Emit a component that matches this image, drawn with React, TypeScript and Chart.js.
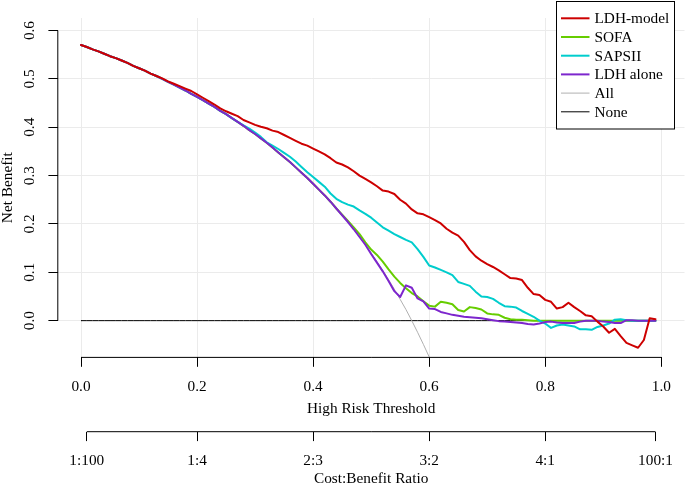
import React, { useEffect, useRef } from "react";
import { Chart, registerables } from "chart.js";

Chart.register(...registerables);

// ---------- data ----------
const thresholds = [
  0.00, 0.01, 0.02, 0.03, 0.04, 0.05, 0.06, 0.07, 0.08, 0.09,
  0.10, 0.11, 0.12, 0.13, 0.14, 0.15, 0.16, 0.17, 0.18, 0.19,
  0.20, 0.21, 0.22, 0.23, 0.24, 0.25, 0.26, 0.27, 0.28, 0.29,
  0.30, 0.31, 0.32, 0.33, 0.34, 0.35, 0.36, 0.37, 0.38, 0.39,
  0.40, 0.41, 0.42, 0.43, 0.44, 0.45, 0.46, 0.47, 0.48, 0.49,
  0.50, 0.51, 0.52, 0.53, 0.54, 0.55, 0.56, 0.57, 0.58, 0.59,
  0.60, 0.61, 0.62, 0.63, 0.64, 0.65, 0.66, 0.67, 0.68, 0.69,
  0.70, 0.71, 0.72, 0.73, 0.74, 0.75, 0.76, 0.77, 0.78, 0.79,
  0.80, 0.81, 0.82, 0.83, 0.84, 0.85, 0.86, 0.87, 0.88, 0.89,
  0.90, 0.91, 0.92, 0.93, 0.94, 0.95, 0.96, 0.97, 0.98, 0.99,
];

const ldhModel = [
  0.570, 0.566, 0.561, 0.557, 0.552, 0.547, 0.543, 0.538, 0.533, 0.527,
  0.522, 0.517, 0.511, 0.506, 0.501, 0.495, 0.490, 0.485, 0.480, 0.475,
  0.468, 0.461, 0.454, 0.447, 0.439, 0.433, 0.428, 0.423, 0.415, 0.410,
  0.405, 0.401, 0.398, 0.393, 0.390, 0.384, 0.378, 0.372, 0.366, 0.362,
  0.356, 0.350, 0.344, 0.336, 0.327, 0.323, 0.317, 0.309, 0.300, 0.293,
  0.286, 0.278, 0.269, 0.267, 0.262, 0.250, 0.242, 0.230, 0.222, 0.220,
  0.214, 0.208, 0.201, 0.190, 0.182, 0.176, 0.163, 0.146, 0.133, 0.124,
  0.117, 0.111, 0.104, 0.096, 0.088, 0.087, 0.084, 0.068, 0.055, 0.053,
  0.043, 0.039, 0.025, 0.028, 0.037, 0.028, 0.020, 0.011, 0.009, -0.002,
  -0.012, -0.025, -0.017, -0.032, -0.046, -0.051, -0.056, -0.040, 0.005, 0.003,
];

const sofa = [
  0.570, 0.566, 0.561, 0.557, 0.552, 0.547, 0.543, 0.538, 0.533, 0.527,
  0.522, 0.517, 0.511, 0.506, 0.500, 0.494, 0.488, 0.482, 0.476, 0.469,
  0.463, 0.456, 0.449, 0.442, 0.434, 0.427, 0.419, 0.411, 0.403, 0.394,
  0.386, 0.377, 0.368, 0.358, 0.348, 0.338, 0.328, 0.317, 0.306, 0.295,
  0.283, 0.271, 0.259, 0.246, 0.232, 0.219, 0.206, 0.193, 0.179, 0.162,
  0.147, 0.136, 0.122, 0.106, 0.091, 0.078, 0.067, 0.057, 0.050, 0.040,
  0.031, 0.029, 0.039, 0.037, 0.034, 0.022, 0.019, 0.028, 0.026, 0.023,
  0.015, 0.013, 0.012, 0.006, 0.003, 0.002, 0.002, 0.001, 0.000, 0.000,
  0.000, 0.000, 0.000, 0.000, 0.000, 0.000, 0.000, 0.000, 0.000, 0.000,
  0.000, 0.000, 0.000, 0.000, 0.000, 0.000, 0.000, 0.000, 0.000, 0.000,
];

const sapsii = [
  0.570, 0.566, 0.561, 0.557, 0.552, 0.547, 0.543, 0.538, 0.533, 0.527,
  0.522, 0.517, 0.511, 0.506, 0.500, 0.494, 0.488, 0.482, 0.476, 0.469,
  0.463, 0.456, 0.449, 0.442, 0.434, 0.427, 0.419, 0.411, 0.404, 0.397,
  0.389, 0.380, 0.369, 0.362, 0.355, 0.347, 0.339, 0.329, 0.318, 0.307,
  0.297, 0.287, 0.277, 0.263, 0.252, 0.245, 0.240, 0.236, 0.228, 0.221,
  0.213, 0.203, 0.193, 0.186, 0.179, 0.173, 0.167, 0.162, 0.148, 0.132,
  0.114, 0.110, 0.105, 0.100, 0.094, 0.080, 0.076, 0.072, 0.060, 0.050,
  0.049, 0.045, 0.037, 0.030, 0.029, 0.027, 0.020, 0.014, 0.008, 0.000,
  -0.006, -0.015, -0.010, -0.008, -0.010, -0.012, -0.018, -0.018, -0.019, -0.013,
  -0.010, -0.006, 0.002, 0.003, 0.001, 0.000, 0.000, 0.000, 0.000, 0.000,
];

const ldhAlone = [
  0.570, 0.566, 0.561, 0.557, 0.552, 0.547, 0.543, 0.538, 0.533, 0.527,
  0.522, 0.517, 0.511, 0.506, 0.500, 0.494, 0.488, 0.482, 0.476, 0.469,
  0.463, 0.456, 0.449, 0.442, 0.434, 0.427, 0.419, 0.411, 0.403, 0.394,
  0.386, 0.377, 0.368, 0.358, 0.348, 0.338, 0.328, 0.317, 0.306, 0.295,
  0.283, 0.271, 0.259, 0.246, 0.232, 0.218, 0.204, 0.189, 0.173, 0.157,
  0.138, 0.120, 0.102, 0.082, 0.061, 0.049, 0.073, 0.068, 0.046, 0.040,
  0.025, 0.024, 0.018, 0.015, 0.012, 0.010, 0.008, 0.007, 0.006, 0.005,
  0.003, 0.001, -0.001, -0.002, -0.003, -0.004, -0.005, -0.007, -0.008, -0.006,
  -0.003, -0.002, -0.004, -0.005, -0.005, -0.005, -0.002, 0.000, 0.000, 0.000,
  -0.002, -0.003, -0.005, -0.005, 0.001, 0.001, 0.000, 0.000, 0.000, 0.000,
];

const treatAll = [
  0.570, 0.566, 0.561, 0.557, 0.552, 0.547, 0.543, 0.538, 0.533, 0.527,
  0.522, 0.517, 0.511, 0.506, 0.500, 0.494, 0.488, 0.482, 0.476, 0.469,
  0.463, 0.456, 0.449, 0.442, 0.434, 0.427, 0.419, 0.411, 0.403, 0.394,
  0.386, 0.377, 0.368, 0.358, 0.348, 0.338, 0.328, 0.317, 0.306, 0.295,
  0.283, 0.271, 0.259, 0.246, 0.232, 0.218, 0.204, 0.189, 0.173, 0.157,
  0.140, 0.122, 0.104, 0.085, 0.065, 0.044, 0.023, 0.000, -0.024, -0.049,
  -0.075, -0.103, null, null, null, null, null, null, null, null,
  null, null, null, null, null, null, null, null, null, null,
  null, null, null, null, null, null, null, null, null, null,
  null, null, null, null, null, null, null, null, null, null,
];

const treatNone = [
  0, 0, 0, 0, 0, 0, 0, 0, 0, 0,
  0, 0, 0, 0, 0, 0, 0, 0, 0, 0,
  0, 0, 0, 0, 0, 0, 0, 0, 0, 0,
  0, 0, 0, 0, 0, 0, 0, 0, 0, 0,
  0, 0, 0, 0, 0, 0, 0, 0, 0, 0,
  0, 0, 0, 0, 0, 0, 0, 0, 0, 0,
  0, 0, 0, 0, 0, 0, 0, 0, 0, 0,
  0, 0, 0, 0, 0, 0, 0, 0, 0, 0,
  0, 0, 0, 0, 0, 0, 0, 0, 0, 0,
  0, 0, 0, 0, 0, 0, 0, 0, 0, 0,
];

const xTicks = [0.0, 0.2, 0.4, 0.6, 0.8, 1.0];
const yTicks = [0.0, 0.1, 0.2, 0.3, 0.4, 0.5, 0.6];
const ratioPositions = [0.0099, 0.2, 0.4, 0.6, 0.8, 0.9901];
const ratioLabels = ["1:100", "1:4", "2:3", "3:2", "4:1", "100:1"];

const seriesLabels = ["LDH-model", "SOFA", "SAPSII", "LDH alone", "All", "None"];
const seriesData = [ldhModel, sofa, sapsii, ldhAlone, treatAll, treatNone];
const seriesColors = ["#CD0000", "#66CD00", "#00CDCD", "#7D26CD", "#B0B0B0", "#000000"];
const seriesWidths = [2, 2, 2, 2, 1, 1];
const seriesOrder = [0, 3, 2, 1, 4, 5];

// ---------- styling ----------
const FONT_FAMILY = '"Liberation Serif", "Times New Roman", Times, serif';
const FONT_SIZE = 15.3;
const TICK_LEN = 9.4;
const GRID_COLOR = "#EBEBEB";

const rAxesAndLegend = {
  id: "rAxesAndLegend",
  afterDraw(chart: any) {
    const { ctx, chartArea, scales } = chart;
    const x = scales.x;
    const y = scales.y;
    const x2 = scales.x2;
    ctx.save();
    ctx.strokeStyle = "#000";
    ctx.lineWidth = 1;
    ctx.beginPath();
    // y axis line (0.0 .. 0.6)
    ctx.moveTo(chartArea.left, y.getPixelForValue(yTicks[0]));
    ctx.lineTo(chartArea.left, y.getPixelForValue(yTicks[yTicks.length - 1]));
    // x axis line (0.0 .. 1.0)
    ctx.moveTo(x.getPixelForValue(xTicks[0]), chartArea.bottom);
    ctx.lineTo(x.getPixelForValue(xTicks[xTicks.length - 1]), chartArea.bottom);
    // cost:benefit axis line
    ctx.moveTo(x2.getPixelForValue(ratioPositions[0]), x2.top);
    ctx.lineTo(x2.getPixelForValue(ratioPositions[ratioPositions.length - 1]), x2.top);
    ctx.stroke();

    // legend
    const bx = Math.round(chartArea.right - 128.5) + 0.5;
    const by = 1.5;
    const bw = 118;
    const bh = 127.5;
    ctx.fillStyle = "#fff";
    ctx.fillRect(bx, by, bw, bh);
    ctx.strokeStyle = "#000";
    ctx.lineWidth = 1;
    ctx.strokeRect(bx, by, bw, bh);
    ctx.font = `${FONT_SIZE}px ${FONT_FAMILY}`;
    ctx.textBaseline = "middle";
    ctx.textAlign = "left";
    chart.data.datasets.forEach((ds: any, i: number) => {
      const yy = by + 16.8 + i * 18.7;
      ctx.strokeStyle = ds.borderColor;
      ctx.lineWidth = ds.borderWidth;
      ctx.beginPath();
      ctx.moveTo(bx + 4.5, yy);
      ctx.lineTo(bx + 33, yy);
      ctx.stroke();
      ctx.fillStyle = "#000";
      ctx.fillText(ds.label, bx + 38, yy + 1);
    });
    ctx.restore();
  },
};

export default function App() {
  const ref = useRef<HTMLCanvasElement>(null);

  useEffect(() => {
    if (!ref.current) return;
    Chart.defaults.font.family = FONT_FAMILY;
    Chart.defaults.font.size = FONT_SIZE;
    Chart.defaults.color = "#000";

    const datasets = seriesLabels.map((label, i) => ({
      label,
      data: thresholds.map((t, j) => ({ x: t, y: seriesData[i][j] })),
      borderColor: seriesColors[i],
      backgroundColor: seriesColors[i],
      borderWidth: seriesWidths[i],
      pointRadius: 0,
      tension: 0,
      fill: false,
      spanGaps: false,
      order: seriesOrder[i],
      borderCapStyle: "round" as const,
      borderJoinStyle: "round" as const,
      clip: 0,
    }));

    const chart = new Chart(ref.current, {
      type: "line",
      data: { datasets },
      options: {
        animation: false,
        responsive: false,
        devicePixelRatio: 1,
        parsing: false as any,
        normalized: true,
        events: [],
        layout: { padding: { top: 12, right: 0.5, left: 0, bottom: 0 } },
        plugins: {
          legend: { display: false },
          tooltip: { enabled: false },
          title: { display: false },
        },
        scales: {
          x: {
            type: "linear",
            position: "bottom",
            min: -0.04,
            max: 1.04,
            bounds: "data",
            afterBuildTicks: (s: any) => {
              s.ticks = xTicks.map((v) => ({ value: v }));
            },
            afterFit: (s: any) => {
              s.height = 74.3;
            },
            grid: {
              color: GRID_COLOR,
              lineWidth: 1,
              drawTicks: true,
              tickLength: TICK_LEN,
              tickColor: "#000",
              tickWidth: 1,
            },
            border: { display: false },
            ticks: {
              autoSkip: false,
              maxRotation: 0,
              minRotation: 0,
              padding: 10.7,
              color: "#000",
              callback: (v: any) => Number(v).toFixed(1),
            },
            title: {
              display: true,
              text: "High Risk Threshold",
              color: "#000",
              padding: { top: 0, bottom: 13.5 },
            },
          },
          x2: {
            type: "linear",
            position: "bottom",
            min: -0.04,
            max: 1.04,
            bounds: "data",
            afterBuildTicks: (s: any) => {
              s.ticks = ratioPositions.map((v) => ({ value: v }));
            },
            afterFit: (s: any) => {
              s.height = 54.3;
            },
            grid: {
              drawOnChartArea: false,
              drawTicks: true,
              tickLength: TICK_LEN,
              tickColor: "#000",
              tickWidth: 1,
            },
            border: { display: false },
            ticks: {
              autoSkip: false,
              maxRotation: 0,
              minRotation: 0,
              padding: 10.4,
              color: "#000",
              callback: (_v: any, i: number) => ratioLabels[i],
            },
            title: {
              display: true,
              text: "Cost:Benefit Ratio",
              color: "#000",
              padding: { top: 0, bottom: -2.5 },
            },
          },
          y: {
            type: "linear",
            position: "left",
            min: -0.076,
            max: 0.626,
            bounds: "data",
            afterBuildTicks: (s: any) => {
              s.ticks = yTicks.map((v) => ({ value: v }));
            },
            afterFit: (s: any) => {
              s.width = 57.8;
            },
            grid: {
              color: GRID_COLOR,
              lineWidth: 1,
              drawTicks: true,
              tickLength: TICK_LEN,
              tickColor: "#000",
              tickWidth: 1,
            },
            border: { display: false },
            ticks: {
              autoSkip: false,
              minRotation: 90,
              maxRotation: 90,
              crossAlign: "center",
              padding: 8.8,
              color: "#000",
              callback: (v: any) => Number(v).toFixed(1),
            },
            title: {
              display: true,
              text: "Net Benefit",
              color: "#000",
              padding: { top: -1, bottom: 0 },
            },
          },
        },
      },
      plugins: [rAxesAndLegend],
    } as any);

    return () => chart.destroy();
  }, []);

  return (
    <div
      style={{
        position: "fixed",
        left: 0,
        top: 0,
        width: 685,
        height: 486,
        background: "#fff",
      }}
    >
      <canvas
        ref={ref}
        width={685}
        height={486}
        style={{ display: "block", width: 685, height: 486 }}
      />
    </div>
  );
}
